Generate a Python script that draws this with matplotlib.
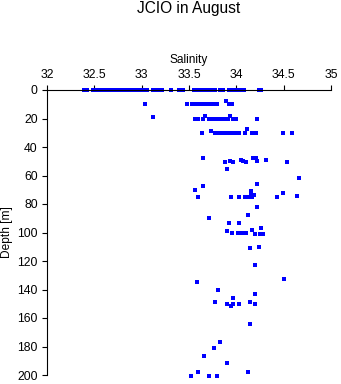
import matplotlib
matplotlib.use("Agg")
import matplotlib.pyplot as plt

# CTD bottle samples: salinity and depth (m)
salinity = [
    # surface
    32.39, 32.42, 32.49, 32.52, 32.56, 32.60, 32.63, 32.67, 32.70, 32.73,
    32.75, 32.78, 32.81, 32.85, 32.89, 32.92, 32.96, 32.99, 33.02, 33.06,
    33.12, 33.15, 33.18, 33.21, 33.31, 33.39, 33.44, 33.55, 33.58, 33.62,
    33.65, 33.68, 33.71, 33.74, 33.77, 33.83, 33.86, 33.92, 33.95, 33.99,
    34.02, 34.04, 34.08, 34.24, 34.26,
    # ~10 m
    33.04, 33.48, 33.53, 33.56, 33.60, 33.64, 33.67, 33.70, 33.73, 33.76,
    33.80, 33.89, 33.92, 33.95,
    # ~20 m
    33.12, 33.56, 33.60, 33.65, 33.67, 33.71, 33.74, 33.77, 33.81, 33.84,
    33.88, 33.91, 33.93, 33.96, 34.00, 34.22,
    # ~30 m
    33.64, 33.73, 33.77, 33.81, 33.84, 33.87, 33.90, 33.93, 33.96, 34.00,
    34.03, 34.09, 34.11, 34.17, 34.21, 34.49, 34.59,
    # ~50 m
    33.65, 33.88, 33.93, 33.97, 34.05, 34.07, 34.10, 34.18, 34.21, 34.22,
    34.31, 34.54, 33.90, 34.66,
    # ~75 m
    33.65, 33.56, 33.59, 33.94, 34.03, 34.09, 34.13, 34.17, 34.15, 34.15,
    34.19, 34.22, 34.43, 34.49, 34.64,
    # ~100 m
    34.22, 34.12, 33.71, 33.92, 34.03, 33.90, 33.95, 34.02, 34.06, 34.10,
    34.17, 34.20, 34.25, 34.28, 34.26, 34.14, 34.24, 34.20,
    # ~150 m
    33.58, 34.50, 33.81, 33.97, 34.20, 33.77, 33.90, 33.94, 33.96, 34.03,
    34.14, 34.20, 34.14,
    # ~200 m
    33.83, 33.76, 33.66, 33.90, 33.59, 34.12, 33.52, 33.71, 33.80,
]
depth = [
    # surface
    0, 0, 0, 0, 0, 0, 0, 0, 0, 0,
    0, 0, 0, 0, 0, 0, 0, 0, 0, 0,
    0, 0, 0, 0, 0, 0, 0, 0, 0, 0,
    0, 0, 0, 0, 0, 0, 0, 0, 0, 0,
    0, 0, 0, 0, 0,
    # ~10 m
    10, 10, 10, 10, 10, 10, 10, 10, 10, 10,
    10, 8, 10, 10,
    # ~20 m
    19, 20, 20, 20, 18, 20, 20, 20, 20, 20,
    20, 20, 18, 20, 20, 20,
    # ~30 m
    30.5, 29, 30.5, 30.5, 30.5, 30.5, 30.5, 30.5, 30.5, 30.5,
    30.5, 30, 27.5, 30.5, 30.5, 30.5, 30.5,
    # ~50 m
    48, 50.5, 49.5, 50.5, 49, 50, 50.5, 47.5, 48, 50,
    49, 50.5, 55.5, 61.5,
    # ~75 m
    67.5, 70, 75, 75, 75, 75, 75, 75, 71, 73,
    74, 66, 75, 72, 74.5,
    # ~100 m
    82, 88, 90, 93.5, 93, 99, 100.5, 100.5, 100.5, 100.5,
    98.5, 101, 101, 101, 96.5, 111, 110, 123,
    # ~150 m
    135, 132.5, 140.5, 146, 143.5, 149, 150.5, 151.5, 150, 150.5,
    148.5, 150.5, 164.5,
    # ~200 m
    176.5, 181, 186.5, 191.5, 198, 198, 200.5, 200.5, 200.5,
]

sal_ticks = [32, 32.5, 33, 33.5, 34, 34.5, 35]
sal_ticklabels = ["32", "32.5", "33", "33.5", "34", "34.5", "35"]
depth_ticks = [0, 20, 40, 60, 80, 100, 120, 140, 160, 180, 200]

plt.rcParams["font.family"] = ["Liberation Sans", "DejaVu Sans"]

fig = plt.figure(figsize=(3.41, 3.84), dpi=100)
ax = fig.add_axes([47 / 341, 1 - 375 / 384, 284 / 341, 285 / 384])

ax.plot(salinity, depth, linestyle="none", marker="s", markersize=2.4,
        markeredgewidth=0, color="#0000ff", clip_on=False)

ax.set_xlim(32, 35)
ax.set_ylim(200, 0)

ax.xaxis.set_ticks_position("top")
ax.xaxis.set_label_position("top")
ax.set_xticks(sal_ticks)
ax.set_xticklabels(sal_ticklabels)
ax.set_yticks(depth_ticks)

for side in ("right", "bottom"):
    ax.spines[side].set_visible(False)
for side in ("left", "top"):
    ax.spines[side].set_linewidth(0.8)

ax.tick_params(axis="both", direction="out", length=3.6, width=0.8,
               labelsize=8.8, colors="black")
ax.tick_params(axis="x", pad=3.0)
ax.tick_params(axis="y", pad=3.0)

ax.set_xlabel("Salinity", fontsize=8.6, labelpad=4)
ax.set_ylabel("Depth [m]", fontsize=8.6, labelpad=3)

fig.text(189 / 341, 1 - 9 / 384, "JCIO in August", ha="center", va="center",
         fontsize=11.2)

fig.savefig("out.png", dpi=100, facecolor="white")
